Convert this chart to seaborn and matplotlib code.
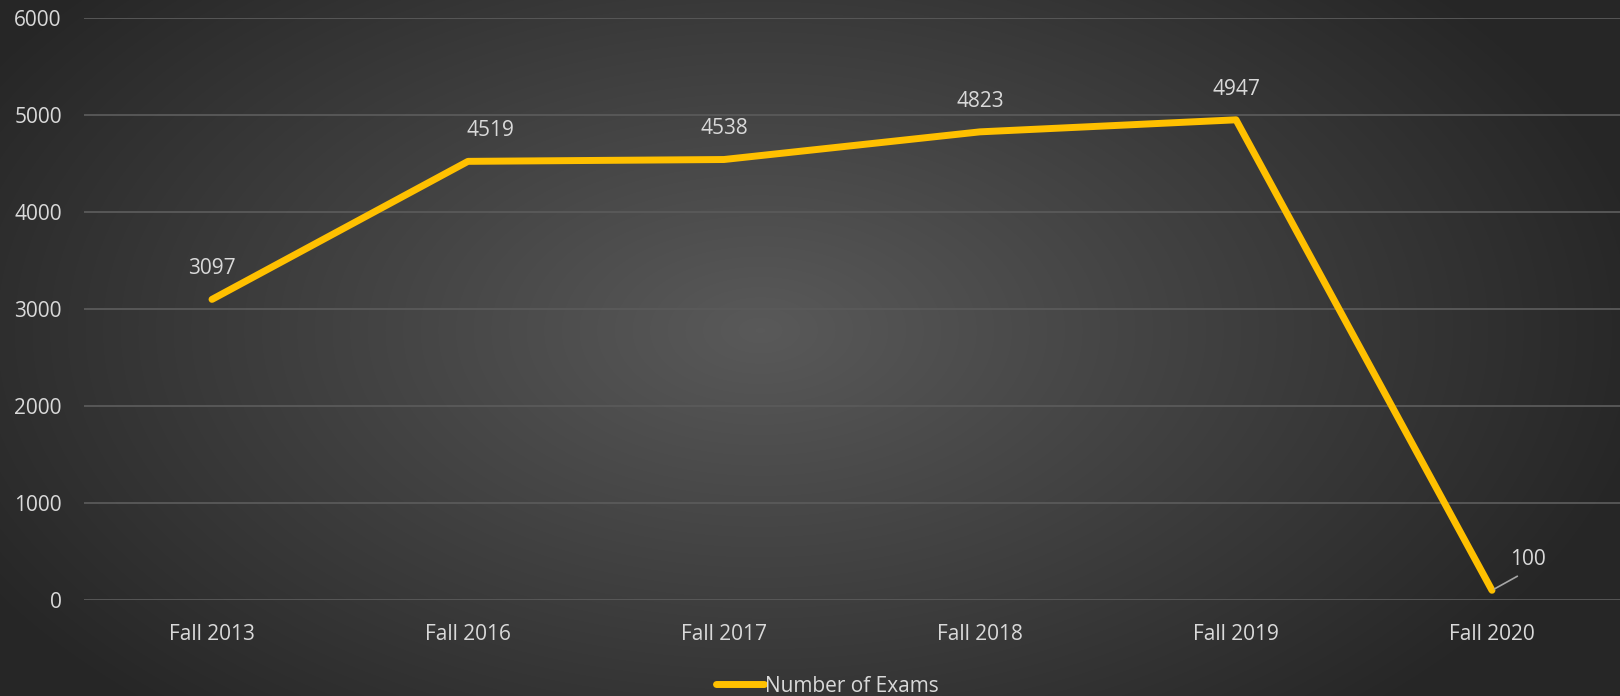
import numpy as np
import pandas as pd
import matplotlib.pyplot as plt
import seaborn as sns

# Data
terms = ['Fall 2013', 'Fall 2016', 'Fall 2017', 'Fall 2018', 'Fall 2019', 'Fall 2020']
exams = [3097, 4519, 4538, 4823, 4947, 100]
series_name = 'Number of Exams'
y_ticks = [0, 1000, 2000, 3000, 4000, 5000, 6000]

df = pd.DataFrame({'Term': terms, series_name: exams})

sns.set_theme(style='dark')
plt.rcParams['font.family'] = ['Open Sans', 'DejaVu Sans']

line_color = '#FFC000'
text_color = '#d9d9d9'
grid_color = '#5a5a5a'
fs = 15

fig = plt.figure(figsize=(16.2, 6.96), dpi=100)

# radial gradient background
bg = fig.add_axes([0, 0, 1, 1], zorder=0)
h, w = 696, 1620
yy, xx = np.mgrid[0:h, 0:w]
r = np.sqrt(((xx - 760) / 900.0) ** 2 + ((yy - 330) / 520.0) ** 2)
r = np.clip(r, 0, 1)
inner, outer = 0.35, 0.15
shade = inner - (inner - outer) * r
img = np.dstack([shade, shade, shade])
bg.imshow(img, aspect='auto', extent=[0, 1, 0, 1])
bg.axis('off')

ax = fig.add_axes([84 / 1620, 1 - 600 / 696, 1 - 84 / 1620, (600 - 17.6) / 696], zorder=1)
ax.set_facecolor('none')

sns.lineplot(data=df, x='Term', y=series_name, ax=ax, color=line_color,
             linewidth=5, solid_capstyle='round', label=series_name, sort=False)

ax.set_ylim(0, 6000)
ax.set_xlim(-0.5, len(terms) - 0.5)
ax.set_yticks(y_ticks)
ax.yaxis.grid(True, color=grid_color, linewidth=1.3)
ax.xaxis.grid(False)
for s in ax.spines.values():
    s.set_visible(False)
ax.set_xlabel('')
ax.set_ylabel('')
ax.tick_params(axis='both', colors=text_color, labelsize=fs, length=0)
ax.tick_params(axis='y', pad=16)
ax.tick_params(axis='x', pad=17)

# data labels
offsets = {1: (16, 22)}
for i, v in enumerate(exams):
    if i == len(exams) - 1:
        ax.annotate(str(v), xy=(i, v), xytext=(26, 22), textcoords='offset points',
                    ha='center', va='center', color=text_color, fontsize=fs,
                    arrowprops=dict(arrowstyle='-', color='#a6a6a6', lw=1.2,
                                    shrinkA=4, shrinkB=2, relpos=(0.5, 0)))
    else:
        dx, dy = offsets.get(i, (0, 22))
        ax.annotate(str(v), xy=(i, v), xytext=(dx, dy), textcoords='offset points',
                    ha='center', va='center', color=text_color, fontsize=fs)

leg = ax.legend(loc='center', bbox_to_anchor=((827 - 84) / 1536, -(686 - 600) / (600 - 17.6)),
                frameon=False, fontsize=fs, handlelength=2.3, handletextpad=0.05,
                labelcolor=text_color)
for l in leg.get_lines():
    l.set_linewidth(5)
    l.set_solid_capstyle('round')

fig.savefig('out.png', dpi=100)
